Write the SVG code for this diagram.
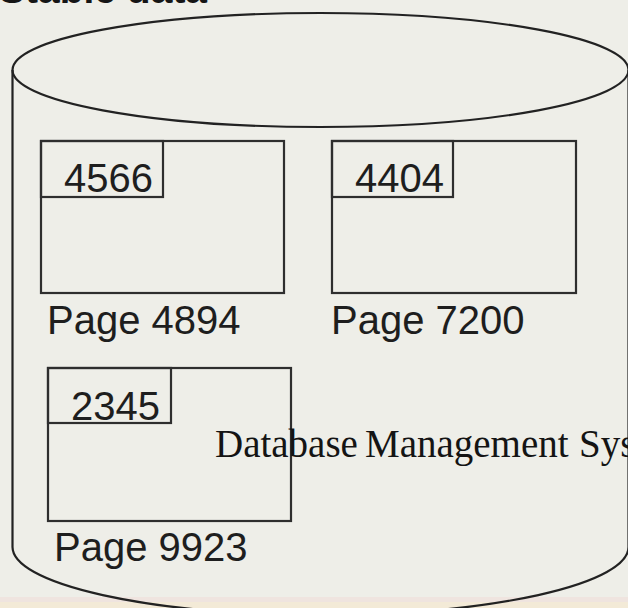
<svg xmlns="http://www.w3.org/2000/svg" width="628" height="608" viewBox="0 0 628 608">
  <style>
    .ln { fill: none; stroke: #222222; stroke-width: 2.2; }
    .box { fill: none; stroke: #2e2e2e; stroke-width: 2.2; }
    .sans { font-family: "Liberation Sans", Arial, sans-serif; font-size: 40px; fill: #1e1e1e; }
    .serif { font-family: "Liberation Serif", "Times New Roman", serif; font-size: 39px; fill: #141414; }
  </style>
  <rect x="0" y="0" width="628" height="608" fill="#eeeee8"/>
  <rect x="0" y="597" width="628" height="5" fill="#efe4df"/>
  <rect x="0" y="602" width="628" height="6" fill="#f3ead7"/>

  <text x="-1" y="3" font-family="Liberation Sans, Arial, sans-serif" font-size="39" font-weight="bold" fill="#151515">Stable data</text>

  <g id="cylinder">
    <ellipse class="ln" cx="320.5" cy="70" rx="308" ry="57"/>
    <path class="ln" d="M12.5,70 L12.5,547 A308,68 0 0 0 628.5,547 L628.5,70"/>
  </g>

  <g id="page4894">
    <rect class="box" x="41" y="141" width="243" height="152"/>
    <rect class="box" x="41" y="141" width="122" height="56"/>
    <text class="sans" x="64" y="192">4566</text>
    <text class="sans" x="47" y="334">Page 4894</text>
  </g>

  <g id="page7200">
    <rect class="box" x="332" y="141" width="244" height="152"/>
    <rect class="box" x="332" y="141" width="121" height="56"/>
    <text class="sans" x="355" y="192">4404</text>
    <text class="sans" x="331" y="334">Page 7200</text>
  </g>

  <g id="page9923">
    <rect class="box" x="48" y="368" width="243" height="153"/>
    <rect class="box" x="48" y="368" width="123" height="55"/>
    <text class="sans" x="71" y="420">2345</text>
    <text class="sans" x="54" y="561">Page 9923</text>
  </g>

  <g id="dbms">
    <text class="serif" y="457"><tspan x="215">Database</tspan><tspan x="365">Management</tspan><tspan x="579">Sys</tspan></text>
  </g>
</svg>
